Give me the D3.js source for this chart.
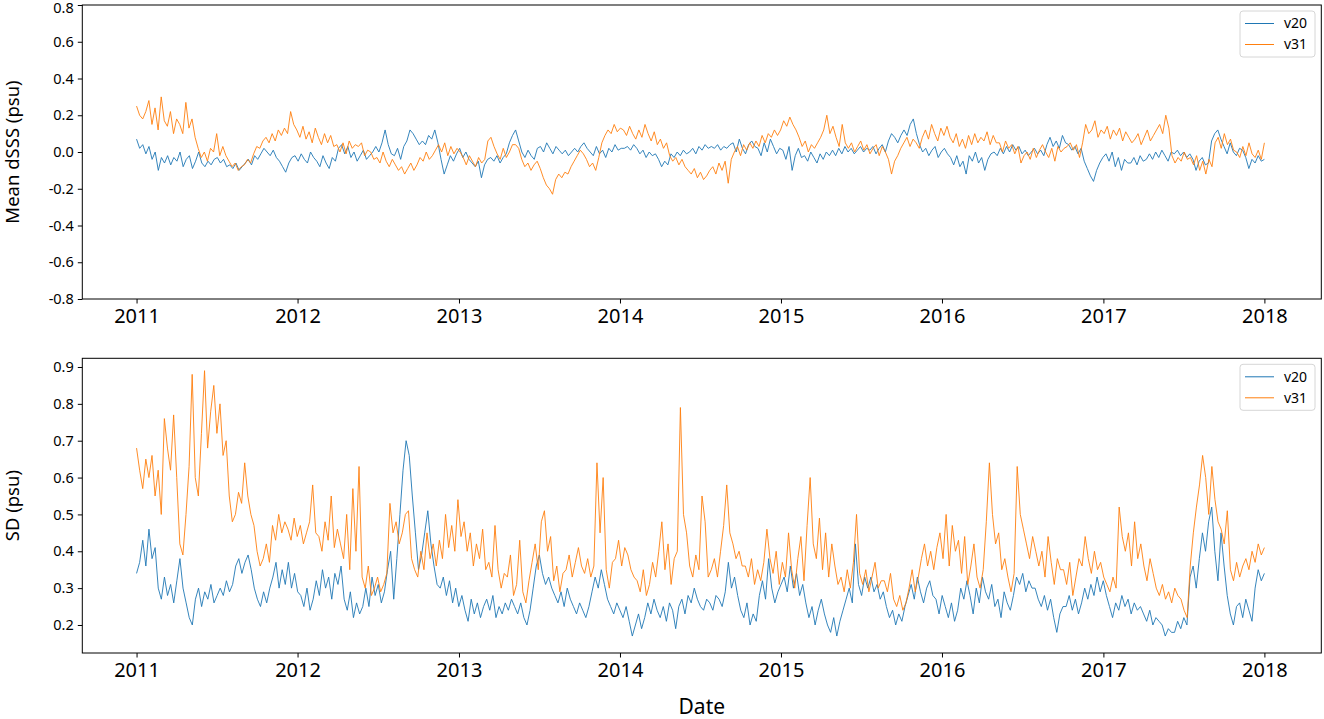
<!DOCTYPE html>
<html>
<head>
<meta charset="utf-8">
<script src="https://cdn.jsdelivr.net/npm/d3@7"></script>
<style>
  body { margin: 0; background: #fff; }
  text { font-family: "Noto Sans", sans-serif; fill: #000; }
</style>
</head>
<body>
<div class="visHolder"></div>
<script>
// weekly values, 2011-01-01 .. 2018-01-01
const meanV20 = [
  0.07, 0.02, 0.04, -0.01, 0.03, -0.04, 0.0, -0.1, -0.03, -0.06,
  -0.02, -0.07, -0.03, -0.05, 0.0, -0.08, -0.04, -0.02, -0.09, -0.05, 0.0,
  -0.06, -0.08, -0.05, -0.07, -0.04, -0.03, -0.06, -0.04, -0.08,
  -0.07, -0.09, -0.06, -0.1, -0.08, -0.06, -0.04, -0.07, -0.02, -0.04,
  -0.01, 0.02, 0.0, -0.02, 0.01, -0.03, -0.05, -0.08, -0.11, -0.06, -0.03,
  -0.02, -0.05, -0.01, -0.04, -0.06, 0.0, -0.03, -0.05, -0.08, -0.02, -0.06, -0.09, -0.03, -0.05,
  0.02, 0.04, -0.01, 0.03, -0.03, 0.0, -0.05, -0.02, 0.01, -0.04, -0.02, 0.0,
  0.03, 0.0, 0.05, 0.12, 0.04, -0.01, -0.02, 0.02, -0.04, 0.03, 0.06, 0.12, 0.1, 0.07, 0.04,
  0.06, 0.04, 0.09, 0.07, 0.12, 0.05, -0.04, -0.12, -0.07, -0.02, -0.05,
  -0.01, 0.02, -0.03, 0.0, -0.04, -0.06, -0.08, -0.05, -0.14, -0.07, -0.04,
  -0.03, -0.05, -0.02, -0.06, -0.03, -0.01, 0.05, 0.09, 0.12, 0.06,
  0.0, -0.03, 0.01, -0.02, -0.04, 0.02, 0.03, 0.0, 0.05, 0.02, -0.01, 0.03, 0.01,
  -0.01, 0.01, -0.02, 0.0, 0.02, 0.0, 0.03, 0.05, 0.02,
  0.0, -0.02, 0.03, -0.01, 0.01, -0.03, 0.02, 0.0, 0.04, 0.01, 0.02,
  0.02, 0.03, 0.01, 0.04, 0.02, -0.01, 0.01, -0.03, 0.0, -0.02, -0.01,
  -0.04, -0.08, -0.05, -0.07, -0.01, -0.03, 0.0, -0.02, 0.01, -0.01,
  0.0, 0.02, -0.01, 0.03, 0.01, 0.04, 0.02,
  0.03, 0.02, 0.04, 0.01, 0.03, 0.02, 0.04, 0.05, 0.0, 0.07, 0.02, -0.01, 0.04, 0.06, 0.03,
  0.02, -0.02, 0.05, 0.0, 0.07, 0.03, -0.01, 0.02, 0.01, -0.04, 0.03, -0.1, -0.02, 0.02, -0.03,
  -0.02, -0.05, 0.0, -0.03, -0.06, -0.01, -0.04, 0.0, -0.02,
  0.01, -0.02, 0.02, -0.01, 0.03, 0.0, 0.02, -0.01, 0.01, 0.03, 0.0, 0.02,
  0.01, 0.03, -0.01, 0.02, 0.04, 0.0, 0.06, 0.1, 0.08, 0.05, 0.09,
  0.12, 0.09, 0.15, 0.18, 0.1, 0.04, 0.0, 0.02, -0.02, 0.01, 0.03, -0.03, 0.0, 0.02, -0.01,
  -0.03, -0.07, -0.02, -0.08, -0.05, -0.12, -0.02, -0.05, 0.0, -0.06, -0.03, -0.1, -0.04,
  -0.01, 0.0, -0.02,
  0.02, -0.01, 0.03, 0.0, 0.04, 0.01, 0.03, -0.01, 0.01, -0.02, 0.0, 0.02, -0.01, 0.01, -0.02,
  0.04, 0.08, 0.03, 0.06, 0.02, 0.09, 0.05, 0.04, 0.01, 0.03, -0.01, 0.02,
  -0.05, -0.09, -0.13, -0.16, -0.1, -0.06,
  -0.03, -0.01, -0.05, 0.0, -0.08, -0.03, -0.1, -0.04, -0.06,
  -0.06, -0.03, -0.07, -0.02, -0.05, -0.04,
  -0.01, -0.04, 0.0, -0.03, 0.01, -0.02, -0.05, 0.0,
  -0.01, 0.01, -0.02, 0.0, -0.03, -0.01, -0.04, -0.1, -0.05, -0.03, -0.07, -0.06,
  0.06, 0.1, 0.12, 0.07, 0.03, -0.01, 0.05, 0.0, -0.02, 0.02, 0.01,
  -0.03, -0.09, -0.04, -0.06, -0.02, -0.05, -0.04
];

const meanV31 = [
  0.25, 0.2, 0.18, 0.22, 0.28, 0.15, 0.24, 0.12, 0.3, 0.17,
  0.14, 0.22, 0.1, 0.18, 0.15, 0.1, 0.27, 0.13, 0.18, 0.08,
  0.02, -0.03, 0.0, -0.05, 0.02, 0.0, 0.1, -0.02, 0.03, -0.02,
  -0.05, -0.08, -0.06, -0.1, -0.08, -0.07, -0.04, -0.06,
  -0.01, 0.03, 0.02, 0.06, 0.08, 0.05, 0.1, 0.06, 0.12,
  0.09, 0.13, 0.1, 0.22, 0.15, 0.12, 0.08, 0.14, 0.07, 0.11, 0.05, 0.13,
  0.08, 0.04, 0.1, 0.05, 0.09, 0.03, 0.04, 0.0, 0.05, -0.01, 0.06, 0.02, 0.04,
  0.03, 0.05, -0.02, 0.01, 0.0, -0.04, -0.03, -0.06, 0.0, -0.05, -0.08, -0.04,
  -0.07, -0.1, -0.08, -0.12, -0.09, -0.06, -0.1, -0.07,
  -0.03, -0.05, 0.0, -0.04, -0.02, 0.01, 0.04, 0.0, 0.05, -0.02, 0.03, -0.01, 0.02, 0.0,
  -0.03, -0.07, -0.02, -0.05, -0.08, -0.03, -0.06, -0.04, 0.06, 0.08, 0.03,
  -0.01, -0.04, 0.02, -0.03, 0.0, 0.04, 0.04, 0.02,
  -0.04, -0.08, -0.06, -0.1, -0.07, -0.05, -0.09, -0.14, -0.18, -0.2, -0.23,
  -0.15, -0.12, -0.14, -0.11, -0.12, -0.08, -0.05, -0.02, 0.01, -0.01,
  -0.04, -0.08, -0.06, -0.1, -0.03, 0.05, 0.09, 0.12, 0.1, 0.15, 0.11, 0.13,
  0.12, 0.09, 0.14, 0.1, 0.07, 0.12, 0.08, 0.15, 0.1, 0.06, 0.11,
  0.04, 0.07, 0.02, 0.05, -0.02, -0.05, -0.03, -0.07, -0.04, -0.08,
  -0.1, -0.12, -0.09, -0.14, -0.11, -0.15, -0.13,
  -0.1, -0.08, -0.12, -0.06, -0.1, -0.05, -0.17, -0.04, 0.0, 0.03, -0.02, 0.04, 0.01, 0.05, 0.02,
  0.06, 0.03, 0.09, 0.05, 0.1, 0.08, 0.12, 0.09, 0.12, 0.17, 0.14, 0.19, 0.15, 0.12,
  0.08, 0.03, 0.06, 0.0, 0.04, 0.02, 0.05, 0.08, 0.12, 0.2, 0.1, 0.14, 0.08, 0.03, 0.15, 0.05,
  0.02, 0.05, 0.0, 0.03, 0.06, 0.01, 0.04, -0.01, 0.02, 0.04, -0.02, 0.03, 0.0,
  -0.04, -0.12, -0.05, -0.02, 0.02, 0.05, 0.08, 0.03, 0.07, 0.05, 0.02,
  0.08, 0.12, 0.07, 0.15, 0.1, 0.06, 0.13, 0.09, 0.14, 0.08, 0.05, 0.1,
  0.03, 0.07, 0.02, 0.09, 0.04, 0.1, 0.05, 0.08, 0.06, 0.11, 0.04, 0.09, 0.05,
  0.05, 0.0, 0.06, 0.02, 0.04, -0.01, 0.03, -0.06, -0.02, 0.0, -0.04, 0.02, -0.03, 0.01,
  0.04, 0.0, -0.03, 0.02, -0.05, 0.03, 0.0, 0.02, 0.03, 0.05, 0.01, 0.04, -0.03, 0.05,
  0.15, 0.1, 0.12, 0.17, 0.08, 0.12, 0.1, 0.14, 0.07, 0.12, 0.09, 0.13, 0.06, 0.11, 0.08, 0.05,
  0.07, 0.1, 0.04, 0.08, 0.12, 0.06, 0.09, 0.12, 0.15, 0.1, 0.2, 0.13,
  -0.02, -0.06, -0.03, -0.05, 0.0, -0.04, -0.03, -0.07, -0.02, -0.1, -0.05, -0.12, -0.04, -0.08,
  0.05, 0.08, 0.02, 0.1, 0.04, 0.07, 0.01, 0.0, -0.03, 0.03, -0.02, 0.05, -0.01,
  -0.03, 0.01, -0.04, 0.05
];

const sdV20 = [
  0.34, 0.37, 0.43, 0.36, 0.46, 0.38, 0.41, 0.3, 0.27, 0.33, 0.28, 0.31, 0.26, 0.32,
  0.38, 0.3, 0.26, 0.22, 0.2, 0.27, 0.3, 0.25, 0.29, 0.27, 0.31, 0.26, 0.28,
  0.3, 0.28, 0.32, 0.29, 0.31, 0.36, 0.38, 0.34, 0.37, 0.39, 0.35,
  0.3, 0.27, 0.25, 0.29, 0.26, 0.3, 0.33, 0.37, 0.3, 0.35, 0.31, 0.37, 0.3, 0.34, 0.29,
  0.28, 0.25, 0.3, 0.24, 0.27, 0.32, 0.28, 0.35, 0.3, 0.33, 0.27, 0.34, 0.31, 0.36,
  0.27, 0.24, 0.29, 0.22, 0.26, 0.23, 0.25, 0.3, 0.25, 0.33, 0.28, 0.31, 0.26, 0.29,
  0.35, 0.4, 0.27, 0.38, 0.5, 0.62, 0.7, 0.66, 0.55, 0.45, 0.35,
  0.39, 0.45, 0.51, 0.42, 0.36, 0.31, 0.3, 0.33, 0.28, 0.32, 0.26, 0.3, 0.25, 0.28,
  0.24, 0.21, 0.27, 0.23, 0.26, 0.22, 0.25, 0.27, 0.24, 0.28, 0.22, 0.25, 0.23,
  0.26, 0.24, 0.27, 0.25, 0.23, 0.26, 0.22, 0.2, 0.24, 0.3, 0.36, 0.39, 0.34, 0.31, 0.33, 0.3,
  0.28, 0.26, 0.29, 0.25, 0.3, 0.27, 0.25, 0.23, 0.26, 0.24, 0.22, 0.25,
  0.29, 0.33, 0.3, 0.35, 0.31, 0.27, 0.25, 0.23, 0.26, 0.24, 0.22, 0.25,
  0.21, 0.17, 0.2, 0.23, 0.19, 0.22, 0.26, 0.23, 0.27, 0.24, 0.22, 0.25, 0.21, 0.26, 0.24, 0.19,
  0.25, 0.27, 0.23, 0.28, 0.26, 0.3, 0.27, 0.25, 0.24, 0.27,
  0.26, 0.24, 0.28, 0.27, 0.25, 0.29, 0.37, 0.3, 0.33, 0.28, 0.24, 0.22, 0.26, 0.2, 0.23, 0.21,
  0.28, 0.32, 0.27, 0.38, 0.3, 0.26, 0.29, 0.31, 0.33, 0.29, 0.36, 0.3, 0.34, 0.28, 0.31,
  0.26, 0.22, 0.25, 0.2, 0.24, 0.27, 0.23, 0.2, 0.18, 0.22, 0.17, 0.21, 0.24,
  0.27, 0.3, 0.26, 0.42, 0.31, 0.28, 0.33, 0.3, 0.33, 0.29, 0.31, 0.27, 0.29,
  0.25, 0.22, 0.24, 0.2, 0.23, 0.21, 0.25, 0.28, 0.31, 0.27, 0.33, 0.29, 0.26, 0.3, 0.32, 0.28,
  0.27, 0.23, 0.28, 0.25, 0.22, 0.26, 0.21, 0.24,
  0.3, 0.27, 0.32, 0.28, 0.23, 0.3, 0.26, 0.33, 0.29, 0.27, 0.31, 0.25,
  0.27, 0.22, 0.29, 0.26, 0.24, 0.28, 0.33, 0.31, 0.34, 0.29, 0.32, 0.3, 0.3,
  0.27, 0.25, 0.28, 0.24, 0.27, 0.22, 0.18, 0.23, 0.25, 0.25, 0.28, 0.24, 0.27, 0.23, 0.26,
  0.3, 0.27, 0.31, 0.28, 0.33, 0.29, 0.32, 0.28, 0.25, 0.22, 0.26, 0.24,
  0.28, 0.25, 0.27, 0.23, 0.26, 0.24, 0.25, 0.23, 0.21, 0.24, 0.2, 0.22, 0.21,
  0.2, 0.17, 0.19, 0.18, 0.18, 0.21, 0.19, 0.22, 0.2, 0.33, 0.36, 0.3,
  0.38, 0.45, 0.4, 0.48, 0.52, 0.4, 0.32, 0.45, 0.36, 0.28, 0.23, 0.2, 0.25,
  0.26, 0.22, 0.27, 0.24, 0.21, 0.3, 0.35, 0.32, 0.34
];

const sdV31 = [
  0.68, 0.62, 0.57, 0.65, 0.6, 0.66, 0.55, 0.62, 0.5, 0.76,
  0.68, 0.62, 0.77, 0.6, 0.42, 0.39, 0.5, 0.63, 0.88, 0.6,
  0.55, 0.72, 0.89, 0.68, 0.78, 0.85, 0.72, 0.8, 0.66, 0.7,
  0.55, 0.48, 0.5, 0.56, 0.53, 0.64, 0.55, 0.5, 0.47, 0.4,
  0.36, 0.38, 0.42, 0.37, 0.47, 0.43, 0.5, 0.45, 0.48, 0.46,
  0.43, 0.49, 0.44, 0.47, 0.42, 0.45, 0.48, 0.58, 0.45, 0.44,
  0.4, 0.48, 0.43, 0.55, 0.41, 0.46, 0.42, 0.38, 0.5, 0.35,
  0.57, 0.4, 0.63, 0.33, 0.3, 0.36, 0.28, 0.3, 0.33, 0.29,
  0.31, 0.34, 0.53, 0.45, 0.48, 0.42, 0.45, 0.5, 0.51, 0.38, 0.35, 0.33,
  0.4, 0.35, 0.45, 0.38, 0.42, 0.36, 0.43, 0.38, 0.5, 0.41, 0.47, 0.4, 0.54, 0.44,
  0.48, 0.4, 0.45, 0.36, 0.42, 0.38, 0.46, 0.35, 0.37, 0.33, 0.47, 0.35, 0.3, 0.34,
  0.33, 0.39, 0.28, 0.31, 0.43, 0.29, 0.26, 0.32, 0.37, 0.42, 0.35, 0.48, 0.51, 0.4, 0.44,
  0.32, 0.36, 0.29, 0.34, 0.35, 0.39, 0.33, 0.37, 0.41, 0.36, 0.34, 0.38, 0.33, 0.36,
  0.64, 0.45, 0.6, 0.35, 0.3, 0.37, 0.38, 0.43, 0.36, 0.41, 0.39, 0.35, 0.33,
  0.32, 0.29, 0.35, 0.28, 0.31, 0.37, 0.33, 0.4, 0.48, 0.35, 0.42, 0.31, 0.38,
  0.4, 0.79, 0.5, 0.45, 0.36, 0.33, 0.39, 0.35, 0.55, 0.48, 0.33,
  0.35, 0.38, 0.33, 0.4, 0.47, 0.58, 0.45, 0.42, 0.38, 0.4, 0.36,
  0.36, 0.33, 0.38, 0.31, 0.35, 0.32, 0.37, 0.46, 0.38,
  0.34, 0.4, 0.31, 0.37, 0.33, 0.45, 0.35, 0.3, 0.38, 0.44, 0.32, 0.47, 0.6, 0.42,
  0.38, 0.49, 0.35, 0.45, 0.33, 0.42, 0.36, 0.31, 0.33, 0.29, 0.35, 0.3, 0.37, 0.5, 0.34,
  0.31, 0.35, 0.29, 0.33, 0.37, 0.3, 0.32, 0.32, 0.29, 0.34, 0.27, 0.25, 0.28, 0.24, 0.26,
  0.3, 0.35, 0.29, 0.33, 0.38, 0.42, 0.36, 0.4, 0.35, 0.41,
  0.45, 0.38, 0.5, 0.36, 0.47, 0.4, 0.43, 0.34, 0.44, 0.31, 0.36, 0.42, 0.33, 0.3, 0.35,
  0.48, 0.64, 0.5, 0.42,
  0.45, 0.35, 0.38, 0.33, 0.29, 0.34, 0.63, 0.5, 0.46, 0.42, 0.38, 0.44, 0.4,
  0.36, 0.4, 0.33, 0.44, 0.37, 0.31, 0.38, 0.35, 0.35, 0.31, 0.37, 0.28, 0.33, 0.38,
  0.36, 0.44, 0.38, 0.34, 0.4, 0.35, 0.37, 0.33, 0.31, 0.29, 0.33, 0.3, 0.52, 0.44,
  0.4, 0.45, 0.36, 0.48, 0.38, 0.42, 0.36, 0.32, 0.38, 0.34,
  0.3, 0.28, 0.31, 0.27, 0.29, 0.26, 0.3, 0.28, 0.27, 0.24, 0.22,
  0.36, 0.45, 0.52, 0.58, 0.66, 0.6, 0.5, 0.63, 0.54, 0.48, 0.46, 0.42, 0.51,
  0.35, 0.32, 0.37, 0.33, 0.36, 0.38, 0.35, 0.4, 0.37, 0.42, 0.39, 0.41
];

const seriesNames = ["v20", "v31"];
const seriesColors = ["#1f77b4", "#ff7f0e"];
const yearTicks = [2011, 2012, 2013, 2014, 2015, 2016, 2017, 2018];
const meanTicks = [-0.8, -0.6, -0.4, -0.2, 0.0, 0.2, 0.4, 0.6, 0.8];
const sdTicks = [0.2, 0.3, 0.4, 0.5, 0.6, 0.7, 0.8, 0.9];

const width = 1324,
  height = 719,
  left = 82.3,
  right = 1321.3;

const firstDay = new Date(2011, 0, 1),
  lastDay = new Date(2018, 0, 1);

const toPoints = (values) =>
  values.map((v, i) => ({
    date: new Date(+firstDay + (i * (lastDay - firstDay)) / (values.length - 1)),
    value: v,
  }));

const svg = d3
  .select(".visHolder")
  .append("svg")
  .attr("width", width)
  .attr("height", height);

const xScale = d3
  .scaleTime()
  .domain([d3.timeDay.offset(firstDay, -123), d3.timeDay.offset(lastDay, 129)])
  .range([left, right]);

const drawPanel = (top, bottom, yDomain, yTicks, yLabel, series) => {
  const yScale = d3.scaleLinear().domain(yDomain).range([bottom, top]);

  const line = d3
    .line()
    .x((d) => xScale(d.date))
    .y((d) => yScale(d.value));

  series.forEach((values, i) => {
    svg
      .append("path")
      .datum(toPoints(values))
      .attr("d", line)
      .attr("fill", "none")
      .attr("stroke", seriesColors[i])
      .attr("stroke-width", 0.9)
      .attr("stroke-linejoin", "round");
  });

  const xAxis = d3
    .axisBottom(xScale)
    .tickValues(yearTicks.map((y) => new Date(y, 0, 1)))
    .tickFormat(d3.timeFormat("%Y"))
    .tickSizeInner(4.5)
    .tickSizeOuter(0)
    .tickPadding(5);

  const yAxis = d3
    .axisLeft(yScale)
    .tickValues(yTicks)
    .tickFormat((d) => d.toFixed(1))
    .tickSizeInner(4.5)
    .tickSizeOuter(0)
    .tickPadding(4);

  const gx = svg
    .append("g")
    .attr("transform", "translate(0," + bottom + ")")
    .call(xAxis);
  gx.selectAll("text").style("font-size", "20px");

  const gy = svg
    .append("g")
    .attr("transform", "translate(" + left + ",0)")
    .call(yAxis);
  gy.selectAll("text")
    .style("font-size", "14.5px")
    .attr("dy", (d) => (yScale(d) - top < 6 ? "0.5em" : "0.32em"));

  svg.selectAll(".domain").remove();

  svg
    .append("rect")
    .attr("x", left)
    .attr("y", top)
    .attr("width", right - left)
    .attr("height", bottom - top)
    .attr("fill", "none")
    .attr("stroke", "#000")
    .attr("stroke-width", 1);

  svg
    .append("text")
    .attr("transform", "translate(13," + (top + bottom) / 2 + ") rotate(-90)")
    .attr("text-anchor", "middle")
    .attr("dy", "0.35em")
    .style("font-size", "18.5px")
    .text(yLabel);

  // legend
  const legend = svg.append("g").attr("transform", "translate(1240," + (top + 6) + ")");
  legend
    .append("rect")
    .attr("width", 75)
    .attr("height", 46)
    .attr("rx", 3)
    .attr("fill", "#fff")
    .attr("fill-opacity", 0.8)
    .attr("stroke", "#d6d6d6");
  seriesNames.forEach((name, i) => {
    legend
      .append("line")
      .attr("x1", 5)
      .attr("x2", 34)
      .attr("y1", 12.5 + i * 21)
      .attr("y2", 12.5 + i * 21)
      .attr("stroke", seriesColors[i])
      .attr("stroke-width", 1);
    legend
      .append("text")
      .attr("x", 44)
      .attr("y", 12.5 + i * 21)
      .attr("dy", "0.35em")
      .style("font-size", "14px")
      .text(name);
  });
};

drawPanel(5, 299, [-0.8, 0.8], meanTicks, "Mean dSSS (psu)", [meanV20, meanV31]);
drawPanel(358.3, 653, [0.124, 0.9236], sdTicks, "SD (psu)", [sdV20, sdV31]);

svg
  .append("text")
  .attr("x", (left + right) / 2)
  .attr("y", 707)
  .attr("text-anchor", "middle")
  .attr("dy", "0.35em")
  .style("font-size", "21px")
  .text("Date");
</script>
</body>
</html>
